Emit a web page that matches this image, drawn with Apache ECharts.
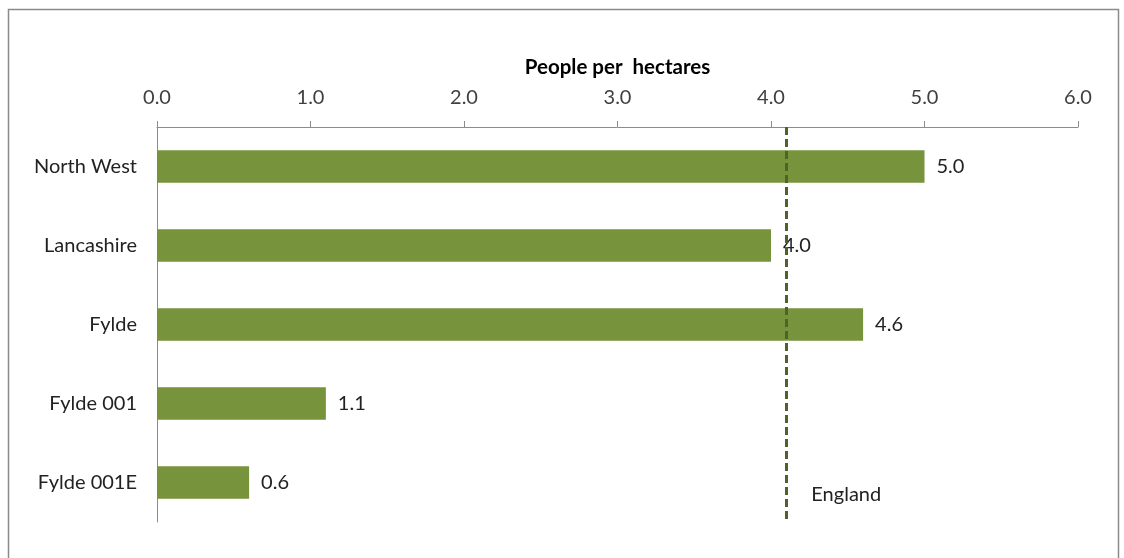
<!DOCTYPE html>
<html>
<head>
<meta charset="utf-8">
<script src="https://cdn.jsdelivr.net/npm/echarts@6/dist/echarts.min.js"></script>
<style>
  html, body { margin: 0; padding: 0; background: #ffffff; }
  #chart { width: 1124px; height: 558px; }
</style>
</head>
<body>
<div id="chart"></div>
<script>
// Population density by area
const categories = ['North West', 'Lancashire', 'Fylde', 'Fylde 001', 'Fylde 001E'];
const density = [5.0, 4.0, 4.6, 1.1, 0.6];
const englandValue = 4.1;
const englandLabel = 'England';
const axisTitle = 'People per  hectares';

const fontFamily = 'Lato, "Open Sans", sans-serif';
const chart = echarts.init(document.getElementById('chart'), null, { renderer: 'canvas' });

chart.setOption({
  animation: false,
  backgroundColor: '#ffffff',
  graphic: [{
    type: 'rect',
    shape: { x: 8.5, y: 9.5, width: 1110, height: 620 },
    style: { fill: 'none', stroke: '#8a8a8a', lineWidth: 1.5 },
    silent: true
  }],
  grid: { left: 157, right: 46, top: 127, bottom: 36, containLabel: false },
  xAxis: {
    type: 'value',
    position: 'top',
    min: 0, max: 6, interval: 1,
    name: axisTitle,
    nameLocation: 'middle',
    nameGap: 49,
    nameTextStyle: { fontFamily, fontSize: 20.5, fontWeight: 'bold', color: '#000000' },
    axisLine: { show: true, lineStyle: { color: '#8c8c8c', width: 1 } },
    axisTick: { show: true, length: 6, inside: false, lineStyle: { color: '#8c8c8c' } },
    axisLabel: {
      fontFamily, fontSize: 20, color: '#404040', margin: 19,
      formatter: v => v.toFixed(1)
    },
    splitLine: { show: false }
  },
  yAxis: {
    type: 'category',
    data: categories,
    inverse: true,
    axisLine: { show: true, lineStyle: { color: '#8c8c8c', width: 1 } },
    axisTick: { show: false },
    axisLabel: { fontFamily, fontSize: 20, color: '#222222', margin: 20 }
  },
  series: [
    {
      type: 'bar',
      data: density,
      barWidth: '41%',
      itemStyle: { color: '#77933c' },
      label: {
        show: true,
        position: 'right',
        distance: 12,
        fontFamily, fontSize: 20, color: '#222222',
        formatter: p => p.value.toFixed(1)
      },
      markLine: {
        silent: true,
        symbol: ['none', 'none'],
        label: { show: false },
        lineStyle: { color: '#4f6228', type: [8, 4], width: 3 },
        data: [{ xAxis: englandValue }]
      }
    },
    {
      // label for the England reference line
      type: 'scatter',
      data: [[englandValue, categories[categories.length - 1]]],
      symbolSize: 0,
      silent: true,
      itemStyle: { opacity: 1 },
      label: {
        show: true,
        position: 'right',
        distance: 25,
        offset: [0, 12],
        fontFamily, fontSize: 20, color: '#222222', opacity: 1,
        formatter: () => englandLabel
      }
    }
  ]
});
</script>
</body>
</html>
